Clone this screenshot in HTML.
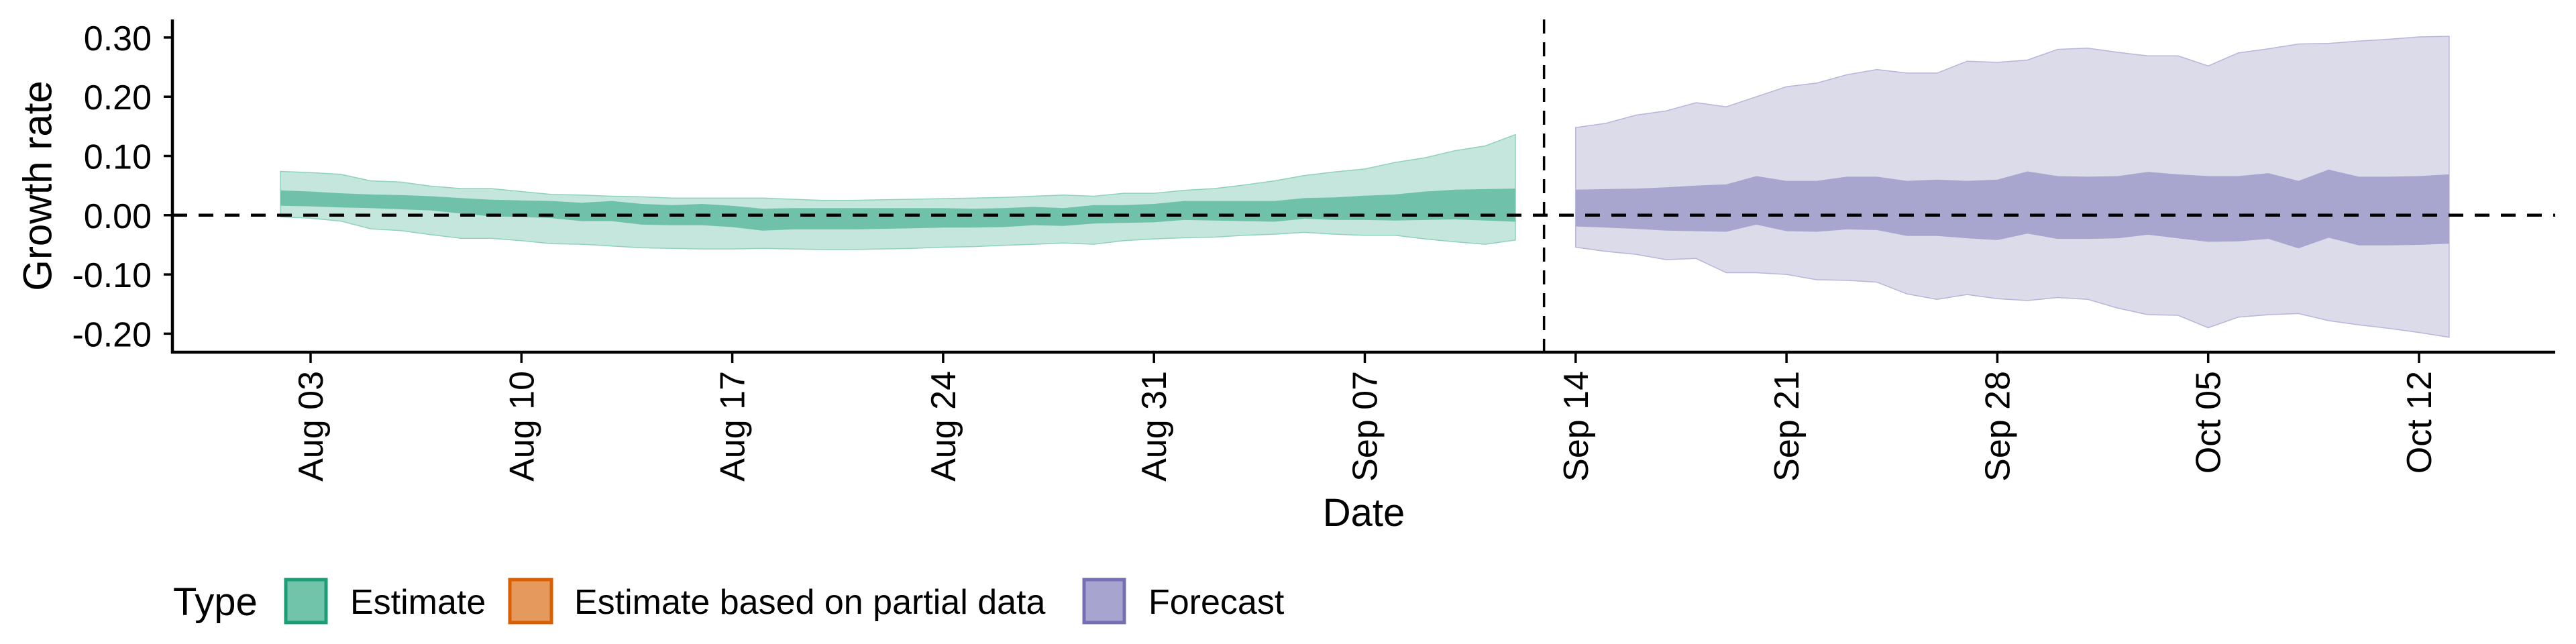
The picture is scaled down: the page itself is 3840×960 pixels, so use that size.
<!DOCTYPE html>
<html><head><meta charset="utf-8"><style>
html,body{margin:0;padding:0;background:#fff;}
svg{display:block;font-family:"Liberation Sans",sans-serif;}
</style></head><body>
<svg id="chart" width="3840" height="960" viewBox="0 0 3840 960" xmlns="http://www.w3.org/2000/svg">
<g id="bands"></g>
<g id="axes"></g>
<text x="56" y="277" transform="rotate(-90 56 277)" text-anchor="middle" dominant-baseline="central" font-size="60">Growth rate</text>
<text x="2033" y="784" text-anchor="middle" font-size="58">Date</text>
<g>
<text x="258" y="917" font-size="58">Type</text>
<rect x="426" y="864" width="60" height="64" fill="#71c3a9" stroke="#1b9e77" stroke-width="5"/>
<text x="522" y="915" font-size="52">Estimate</text>
<rect x="760" y="864" width="62" height="64" fill="#e6995c" stroke="#d95f02" stroke-width="5"/>
<text x="856" y="915" font-size="52">Estimate based on partial data</text>
<rect x="1616" y="864" width="60" height="64" fill="#a8a4d0" stroke="#7570b3" stroke-width="5"/>
<text x="1712" y="915" font-size="52">Forecast</text>
</g>
</svg>
<script>
// Day offsets relative to Aug 03
const estStart = -1;
const estUpper90 = [.074,.072,.069,.058,.056,.049,.045,.045,.040,.035,.034,.032,.031,.029,.029,.029,.029,.027,.025,.025,.026,.027,.028,.029,.030,.032,.034,.032,.037,.037,.042,.045,.051,.058,.067,.073,.078,.089,.097,.109,.117,.136];
const estUpper50 = [.042,.040,.037,.035,.034,.032,.029,.026,.025,.024,.021,.024,.019,.017,.019,.016,.011,.012,.012,.012,.012,.012,.012,.011,.012,.014,.012,.017,.017,.019,.024,.024,.024,.024,.029,.030,.033,.035,.040,.043,.044,.045];
const estLower50 = [.016,.015,.013,.012,.010,.008,.003,-.002,-.003,-.005,-.010,-.010,-.016,-.017,-.017,-.020,-.026,-.024,-.024,-.024,-.023,-.022,-.021,-.021,-.020,-.017,-.018,-.014,-.013,-.012,-.008,-.009,-.010,-.011,-.006,-.008,-.008,-.009,-.008,-.007,-.009,-.011];
const estLower90 = [-.003,-.005,-.010,-.023,-.026,-.033,-.039,-.039,-.043,-.048,-.049,-.052,-.055,-.056,-.057,-.057,-.056,-.057,-.058,-.058,-.057,-.056,-.054,-.053,-.051,-.049,-.047,-.049,-.043,-.040,-.038,-.037,-.034,-.032,-.029,-.032,-.034,-.034,-.040,-.045,-.049,-.042];
const fcStart = 42;
const fcUpper90 = [.148,.155,.169,.176,.190,.183,.200,.217,.223,.237,.246,.240,.240,.260,.258,.262,.280,.282,.275,.269,.269,.252,.274,.281,.289,.290,.294,.297,.301,.302];
const fcUpper50 = [.043,.044,.045,.047,.050,.052,.066,.058,.058,.065,.065,.058,.060,.058,.060,.074,.066,.065,.066,.073,.069,.066,.066,.071,.058,.077,.065,.065,.066,.069];
const fcLower50 = [-.019,-.021,-.023,-.026,-.027,-.028,-.016,-.027,-.028,-.024,-.025,-.035,-.035,-.039,-.042,-.031,-.040,-.040,-.039,-.033,-.039,-.045,-.044,-.040,-.056,-.038,-.051,-.051,-.050,-.048];
const fcLower90 = [-.054,-.061,-.066,-.075,-.073,-.097,-.097,-.100,-.109,-.110,-.113,-.133,-.142,-.134,-.141,-.144,-.139,-.142,-.157,-.168,-.169,-.190,-.172,-.168,-.166,-.178,-.185,-.191,-.198,-.206];
const yTicks = [0.30,0.20,0.10,0.00,-0.10,-0.20];
const yTickLabels = ["0.30","0.20","0.10","0.00","-0.10","-0.20"];
const xTickDays = [0,7,14,21,28,35,42,49,56,63,70];
const xTickLabels = ["Aug 03","Aug 10","Aug 17","Aug 24","Aug 31","Sep 07","Sep 14","Sep 21","Sep 28","Oct 05","Oct 12"];
const forecastDateDay = 40.95;

const NS = "http://www.w3.org/2000/svg";
const xs = d => 463 + 44.9 * d;
const ys = v => 320.8 - 883 * v;
function mk(tag, attrs, parent){const e=document.createElementNS(NS,tag);for(const k in attrs)e.setAttribute(k,attrs[k]);parent.appendChild(e);return e;}
const bands = document.getElementById('bands');
const axes = document.getElementById('axes');

function ribbon(start, up, lo, fill, stroke, name){
  let p = up.map((v,i)=>(i?'L':'M')+xs(start+i).toFixed(1)+','+ys(v).toFixed(1)).join('');
  for(let i=lo.length-1;i>=0;i--) p += 'L'+xs(start+i).toFixed(1)+','+ys(lo[i]).toFixed(1);
  p += 'Z';
  const el = mk('path',{d:p,fill:fill,stroke:stroke,'stroke-width':stroke==='none'?0:1.5},bands);
  
  
}
ribbon(estStart, estUpper90, estLower90, '#c4e6dc', '#8fd2bd', 'estimate-90-band');
ribbon(estStart, estUpper50, estLower50, '#6fc2a9', 'none', 'estimate-50-band');
ribbon(fcStart, fcUpper90, fcLower90, '#dcdbea', '#b8b5da', 'forecast-90-band');
ribbon(fcStart, fcUpper50, fcLower50, '#a8a5cf', 'none', 'forecast-50-band');

const zl = mk('line',{x1:257,x2:3809,y1:ys(0),y2:ys(0),stroke:'#000','stroke-width':4.5,'stroke-dasharray':'22 17'},axes);


const vl = mk('line',{x1:xs(forecastDateDay),x2:xs(forecastDateDay),y1:29,y2:525,stroke:'#000','stroke-width':3.5,'stroke-dasharray':'21 13'},axes);



const ya = mk('line',{x1:257,x2:257,y1:29,y2:527,stroke:'#000','stroke-width':4.5},axes);


const xa = mk('line',{x1:255,x2:3809,y1:525,y2:525,stroke:'#000','stroke-width':4.5},axes);



yTicks.forEach((v,i)=>{
  const y = ys(v);
  const t = mk('line',{x1:244,x2:257,y1:y,y2:y,stroke:'#000','stroke-width':3.5},axes);
  
  
  const tx = mk('text',{x:226,y:y+19,'text-anchor':'end','font-size':52,fill:'#000'},axes);
  tx.textContent = yTickLabels[i];
  
  
});
xTickDays.forEach((d,i)=>{
  const x = xs(d);
  const t = mk('line',{x1:x,x2:x,y1:525,y2:541,stroke:'#000','stroke-width':3.5},axes);
  
  
  const bx = x + 18, by = 553;
  const tx = mk('text',{x:bx,y:by,'text-anchor':'end','font-size':52,fill:'#000',transform:'rotate(-90 '+bx+' '+by+')'},axes);
  tx.textContent = xTickLabels[i];
  
  
});
</script>
</body></html>
